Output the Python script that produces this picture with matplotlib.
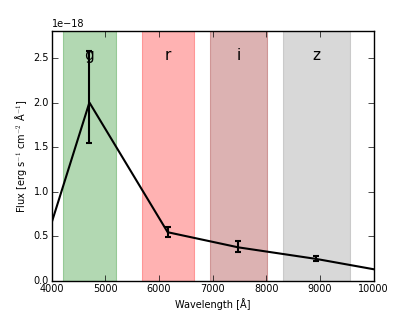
import matplotlib
matplotlib.use('Agg')
import matplotlib.pyplot as plt
import numpy as np

plt.style.use('classic')

# photometric points
bands = ['g', 'r', 'i', 'z']
band_lo = [4200, 5690, 6950, 8310]
band_hi = [5200, 6650, 8020, 9560]
band_colors = ['green', 'red', 'darkred', 'gray']

wave = [4700, 6160, 7480, 8935]
flux = [2.0e-18, 0.545e-18, 0.375e-18, 0.245e-18]
err_lo = [0.45e-18, 0.05e-18, 0.055e-18, 0.028e-18]
err_hi = [0.58e-18, 0.06e-18, 0.07e-18, 0.028e-18]

# model line
model_wave = [4000, 4700, 6160, 7480, 8935, 10000]
model_flux = [0.66e-18, 2.0e-18, 0.545e-18, 0.375e-18, 0.245e-18, 0.13e-18]

fig = plt.figure(figsize=(4.15, 3.12), dpi=100)
fig.patch.set_facecolor('white')
ax = fig.add_subplot(111)

for b, lo, hi, c in zip(bands, band_lo, band_hi, band_colors):
    ax.axvspan(lo, hi, color=c, alpha=0.3, lw=0.8)
    ax.text((lo + hi) / 2, 2.53e-18, b, ha='center', va='center', fontsize=11)

ax.plot(model_wave, model_flux, color='k', lw=1.5)
ax.errorbar(wave, flux, yerr=[err_lo, err_hi], fmt='none', ecolor='k', elinewidth=1.5, capsize=2, capthick=1.5)

ax.set_xlim(4000, 10000)
ax.set_ylim(0, 2.8e-18)
ax.set_xlabel('Wavelength [Å]', fontsize=7, labelpad=3)
ax.set_ylabel(r'Flux [erg s$^{-1}$ cm$^{-2}$ Å$^{-1}$]', fontsize=7, labelpad=3)
ax.tick_params(labelsize=7, pad=2)
ax.yaxis.get_offset_text().set_fontsize(7)

fig.subplots_adjust(left=0.125, right=0.9, bottom=0.1, top=0.9)
fig.savefig('out.png', dpi=100, facecolor='white')
